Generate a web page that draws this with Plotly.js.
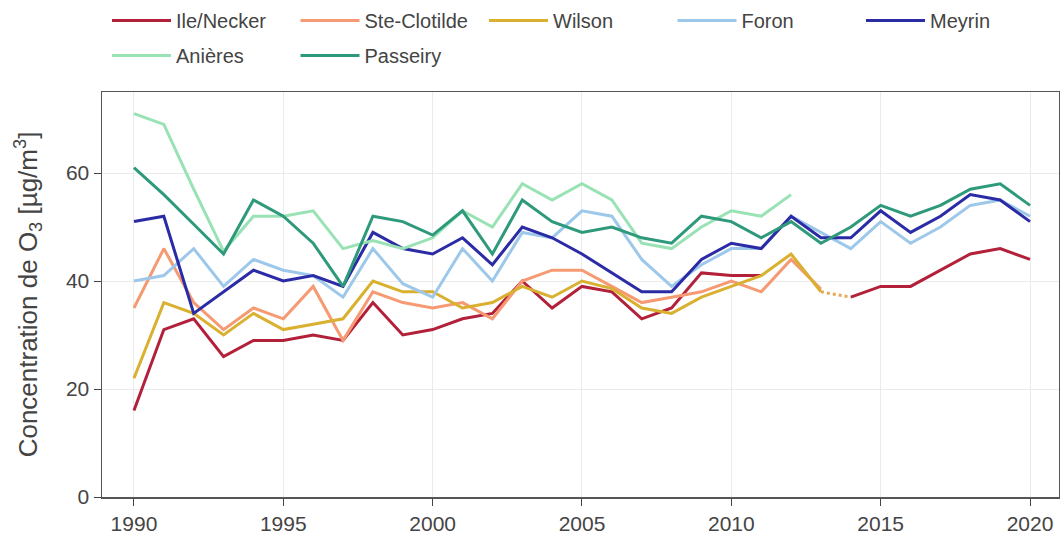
<!DOCTYPE html>
<html>
<head>
<meta charset="utf-8">
<script src="https://cdn.plot.ly/plotly-3.0.1.min.js"></script>
<style>
html,body{margin:0;padding:0;background:#fff;}
#chart{width:1060px;height:545px;}
</style>
</head>
<body>
<div id="chart"></div>
<script>
const years = [1990,1991,1992,1993,1994,1995,1996,1997,1998,1999,2000,2001,2002,2003,2004,2005,2006,2007,2008,2009,2010,2011,2012,2013,2014,2015,2016,2017,2018,2019,2020];

const ileNecker   = [16,31,33,26,29,29,30,29,36,30,31,33,34,40,35,39,38,33,35,41.5,41,41,null,null,37,39,39,42,45,46,44];
const steClotilde = [35,46,36,31,35,33,39,29,38,36,35,36,33,40,42,42,39,36,37,38,40,38,44,38.5,null,null,null,null,null,null,null];
const wilson      = [22,36,34,30,34,31,32,33,40,38,38,35,36,39,37,40,38.6,35,34,37,39,41,45,38,null,null,null,null,null,null,null];
const foron       = [40,41,46,39,44,42,41,37,46,39.5,37,46,40,49,48,53,52,44,39,43,46,46,52,49,46,51,47,50,54,55,52];
const meyrin      = [51,52,34,38,42,40,41,39,49,46,45,48,43,50,48,45,41.5,38,38,44,47,46,52,48,48,53,49,52,56,55,51];
const anieres     = [71,69,57,45.5,52,52,53,46,47.5,46,48,53,50,58,55,58,55,47,46,50,53,52,56,null,null,null,null,null,null,null,null];
const passeiry    = [61,56,50.5,45,55,52,47,39,52,51,48.5,53,45,55,51,49,50,48,47,52,51,48,51,47,50,54,52,54,57,58,54];

const transitionYears  = [2013, 2014];
const transitionValues = [38, 37];

const seriesNames  = ["Ile/Necker","Ste-Clotilde","Wilson","Foron","Meyrin","Anières","Passeiry"];
const seriesData   = [ileNecker, steClotilde, wilson, foron, meyrin, anieres, passeiry];
const seriesColors = ["#B3203A","#F59A72","#D9B030","#9DC8EA","#2B2BA6","#98E2B4","#2E9A7B"];

const xTicks = [1990,1995,2000,2005,2010,2015,2020];
const yTicks = [0,20,40,60];

// legend grid: 5 columns, 2 rows (pixel positions of each legend box)
const legendCols = [107, 295.5, 484, 672.5, 861];
const legendRows = [1, 36];

const legendIds = seriesNames.map((_, i) => i === 0 ? "legend" : "legend" + (i + 1));

const traces = seriesNames.map((name, i) => ({
  type: "scatter",
  mode: "lines",
  name: name,
  legend: legendIds[i],
  x: years,
  y: seriesData[i],
  connectgaps: false,
  line: {color: seriesColors[i], width: 3}
}));

traces.push({
  type: "scatter",
  mode: "lines",
  x: transitionYears,
  y: transitionValues,
  showlegend: false,
  hoverinfo: "skip",
  line: {color: "#E5A85A", width: 3, dash: "dot"}
});

const fam = "Liberation Sans, Arial, sans-serif";

const layout = {
  width: 1060,
  height: 545,
  margin: {l: 102, r: 1, t: 92, b: 48},
  paper_bgcolor: "#fff",
  plot_bgcolor: "#fff",
  font: {family: fam, color: "#444"},
  showlegend: true,
  xaxis: {
    range: [1988.93, 2020.97],
    tickvals: xTicks,
    ticktext: xTicks.map(String),
    ticks: "outside",
    ticklen: 7,
    tickcolor: "#444",
    tickfont: {size: 21, color: "#444"},
    showgrid: true,
    gridcolor: "#EBEBEB",
    gridwidth: 1,
    showline: true,
    linecolor: "#555",
    linewidth: 1.5,
    mirror: true,
    zeroline: false
  },
  yaxis: {
    range: [0, 75],
    tickvals: yTicks,
    ticktext: yTicks.map(String),
    ticks: "outside",
    ticklen: 7,
    tickcolor: "#444",
    tickfont: {size: 21, color: "#444"},
    showgrid: true,
    gridcolor: "#EBEBEB",
    gridwidth: 1,
    showline: true,
    linecolor: "#555",
    linewidth: 1.5,
    mirror: true,
    zeroline: false,
    title: {
      text: "Concentration de O<sub>3</sub> [µg/m<sup>3</sup>]",
      font: {size: 26, color: "#444"},
      standoff: 21
    }
  }
};

legendIds.forEach((id, i) => {
  const col = i < 5 ? i : i - 5;
  const row = i < 5 ? 0 : 1;
  layout[id] = {
    orientation: "h",
    xref: "container", yref: "container",
    x: legendCols[col] / 1060, xanchor: "left",
    y: 1 - legendRows[row] / 545, yanchor: "top",
    itemwidth: 59,
    bgcolor: "rgba(0,0,0,0)",
    font: {family: fam, size: 20, color: "#444"}
  };
});

Plotly.newPlot("chart", traces, layout, {displayModeBar: false, staticPlot: true});
</script>
</body>
</html>
